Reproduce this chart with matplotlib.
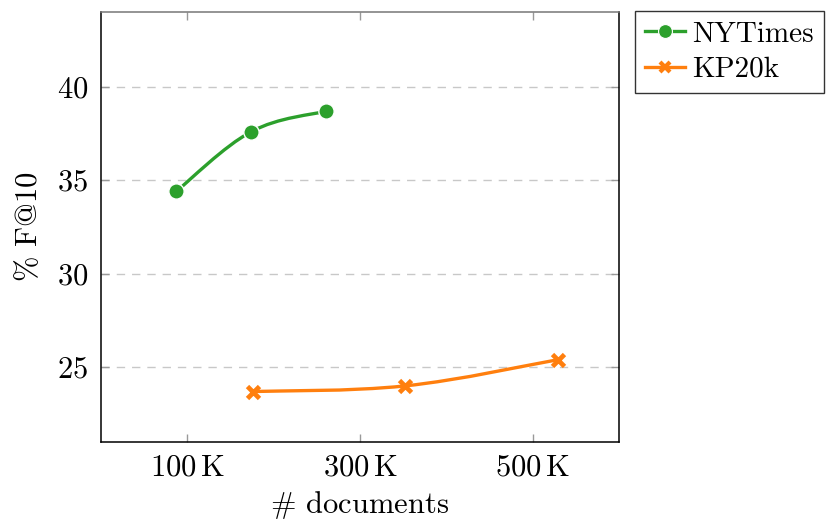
import numpy as np
import matplotlib
matplotlib.use("Agg")
from matplotlib import pyplot
from matplotlib.path import Path
from matplotlib.patches import PathPatch
from matplotlib.lines import Line2D

# Data (x in thousands of documents, y in % F@10)
nyt_docs = [87, 174, 261]
nyt_f10 = [34.4, 37.6, 38.7]
kp_docs = [176, 352, 529]
kp_f10 = [23.7, 24.0, 25.4]

x_ticks = [100, 300, 500]
x_tick_labels = [r"$100\,\mathrm{K}$", r"$300\,\mathrm{K}$", r"$500\,\mathrm{K}$"]
y_ticks = [25, 30, 35, 40]

GREEN = "#2ca02c"
ORANGE = "#ff7f0e"

pyplot.rcParams["font.family"] = "cmr10"
pyplot.rcParams["mathtext.fontset"] = "cm"
pyplot.rcParams["axes.unicode_minus"] = False
pyplot.rcParams["axes.formatter.use_mathtext"] = True


# Smooth curve through points like tikz "smooth" (cubic bezier segments)
def smooth_path(xs, ys, tension=0.55):
    pts = np.column_stack([xs, ys]).astype(float)
    n = len(pts)
    verts = [pts[0]]
    codes = [Path.MOVETO]
    for i in range(n - 1):
        p0 = pts[i - 1] if i > 0 else pts[i]
        p1 = pts[i]
        p2 = pts[i + 1]
        p3 = pts[i + 2] if i + 2 < n else pts[i + 1]
        c1 = p1 + (p2 - p0) * tension / 3.0
        c2 = p2 - (p3 - p1) * tension / 3.0
        verts += [c1, c2, p2]
        codes += [Path.CURVE4] * 3
    return Path(verts, codes)


figure = pyplot.figure(figsize=(8.32, 5.22), dpi=100)
axes = figure.add_axes([101 / 832, 1 - 442 / 522, 518 / 832, 430 / 522])

for xs, ys, col in [(nyt_docs, nyt_f10, GREEN), (kp_docs, kp_f10, ORANGE)]:
    axes.add_patch(PathPatch(smooth_path(xs, ys), facecolor="none",
                             edgecolor=col, linewidth=2.4, zorder=3))

axes.plot(nyt_docs, nyt_f10, linestyle="none", marker="o", markersize=11,
          color=GREEN, markeredgecolor="white", markeredgewidth=1, zorder=4)
axes.plot(kp_docs, kp_f10, linestyle="none", marker="x", markersize=9,
          color=ORANGE, markeredgewidth=3.4, zorder=4)

axes.set_xlim(0, 600)
axes.set_ylim(21, 44)
axes.set_xticks(x_ticks)
axes.set_xticklabels(x_tick_labels)
axes.set_yticks(y_ticks)
axes.tick_params(direction="in", length=6, width=1, color="#999999",
                 labelsize=22, top=True, right=True, pad=9)
axes.grid(axis="y", linestyle=(0, (6, 5)), color="#c8c8c8", linewidth=1)
axes.set_axisbelow(True)
for s in axes.spines.values():
    s.set_linewidth(1.1)
axes.spines["top"].set_color("#777777")

axes.set_xlabel(r"$\#$ documents", fontsize=22, labelpad=5)
axes.set_ylabel(r"$\%$ F@10", fontsize=22, labelpad=10)

# Legend outside the axes, top right
handles = [
    Line2D([], [], color=GREEN, linewidth=2.4, marker="o", markersize=10,
           markeredgecolor="white", markeredgewidth=0.8),
    Line2D([], [], color=ORANGE, linewidth=2.4, marker="x", markersize=7,
           markeredgewidth=3),
]
legend = figure.legend(handles, ["NYTimes", "KP20k"], loc="upper left",
                       bbox_to_anchor=(635 / 832, 1 - 11 / 522), fontsize=21,
                       frameon=True, fancybox=False, edgecolor="black",
                       handlelength=1.35, handletextpad=0.25, borderpad=0.35,
                       labelspacing=0.3, borderaxespad=0)
legend.get_frame().set_linewidth(1.0)

pyplot.savefig("out.png", dpi=100)
